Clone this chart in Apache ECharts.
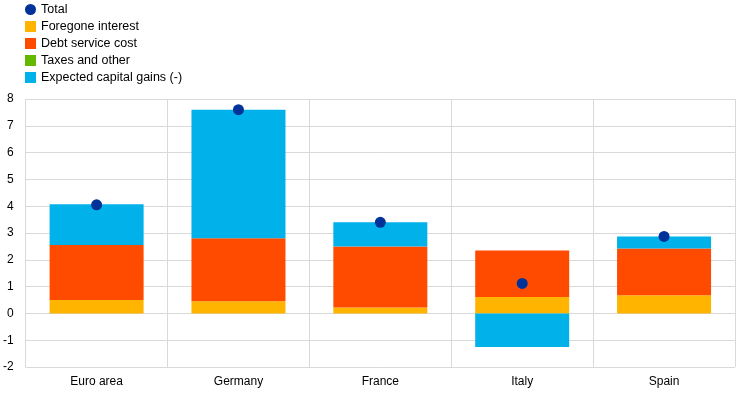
<!DOCTYPE html>
<html>
<head>
<meta charset="utf-8">
<script src="https://cdn.jsdelivr.net/npm/echarts@6/dist/echarts.min.js"></script>
<style>html,body{margin:0;padding:0;background:#fff}#c{width:742px;height:393px}</style>
</head>
<body>
<div id="c"></div>
<script>
var categories = ['Euro area', 'Germany', 'France', 'Italy', 'Spain'];
var foregoneInterest = [0.50, 0.45, 0.22, 0.61, 0.68];
var debtServiceCost = [2.05, 2.35, 2.28, 1.74, 1.74];
var taxesOther = [0, 0, 0, 0, 0];
var capitalGains = [1.52, 4.80, 0.90, -1.25, 0.45];
var total = [4.05, 7.60, 3.40, 1.12, 2.87];
var yTicks = [-2, 8, 1];

var chart = echarts.init(document.getElementById('c'));
var font = 'Liberation Sans, Arial, sans-serif';
function bar(name, data, color) {
  return { name: name, type: 'bar', stack: 's', data: data, barWidth: 94,
    itemStyle: { color: color }, emphasis: { disabled: true } };
}
chart.setOption({
  animation: false,
  textStyle: { fontFamily: font },
  legend: {
    orient: 'vertical', left: 20, top: 0, padding: [3, 5, 5, 5],
    itemWidth: 11, itemHeight: 11, itemGap: 4,
    textStyle: { fontSize: 12.5, color: '#000', fontFamily: font },
    data: [
      { name: 'Total', icon: 'circle' },
      { name: 'Foregone interest', icon: 'rect' },
      { name: 'Debt service cost', icon: 'rect' },
      { name: 'Taxes and other', icon: 'rect' },
      { name: 'Expected capital gains (-)', icon: 'rect' }
    ]
  },
  grid: { left: 25, right: 7, top: 99, bottom: 26, containLabel: false },
  xAxis: {
    type: 'category', data: categories,
    axisLine: { show: false }, axisTick: { show: false },
    splitLine: { show: true, lineStyle: { color: '#d9d9d9' } },
    axisLabel: { color: '#000', fontSize: 12, margin: 9, fontFamily: font }
  },
  yAxis: {
    type: 'value', min: yTicks[0], max: yTicks[1], interval: yTicks[2],
    axisLine: { show: false }, axisTick: { show: false },
    splitLine: { lineStyle: { color: '#d9d9d9' } },
    axisLabel: { color: '#000', fontSize: 12, margin: 12, fontFamily: font }
  },
  series: [
    bar('Foregone interest', foregoneInterest, '#FFB400'),
    bar('Debt service cost', debtServiceCost, '#FF4B00'),
    bar('Taxes and other', taxesOther, '#65B800'),
    bar('Expected capital gains (-)', capitalGains, '#00B1EA'),
    { name: 'Total', type: 'scatter', data: total, symbol: 'circle', symbolSize: 11, z: 10,
      itemStyle: { color: '#003299', opacity: 1 }, emphasis: { disabled: true } }
  ]
});
</script>
</body>
</html>
